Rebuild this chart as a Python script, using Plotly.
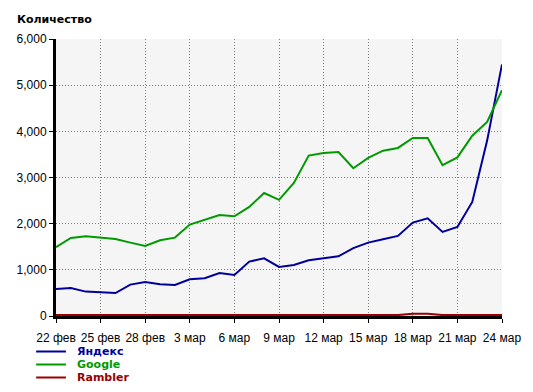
import plotly.graph_objects as go
import pandas as pd

# ---- data ----
dates = pd.date_range("2007-02-22", "2007-03-24", freq="D")
tick_dates = pd.date_range("2007-02-22", "2007-03-24", freq="3D")
tick_labels = ["22 фев", "25 фев", "28 фев", "3 мар", "6 мар", "9 мар",
               "12 мар", "15 мар", "18 мар", "21 мар", "24 мар"]

yandex = [585, 607, 528, 520, 498, 680, 737, 687, 672, 795, 820,
          932, 888, 1178, 1250, 1062, 1105, 1207, 1257, 1294, 1470,
          1590, 1662, 1734, 2023, 2117, 1820, 1928, 2470, 3800, 5450]
google = [1490, 1690, 1727, 1705, 1668, 1590, 1517, 1640, 1698, 1980, 2089,
          2188, 2160, 2362, 2665, 2515, 2882, 3475, 3532, 3550, 3200,
          3425, 3580, 3640, 3857, 3857, 3268, 3435, 3905, 4204, 4890]
rambler = [20, 20, 20, 20, 20, 20, 20, 20, 20, 20, 20,
           20, 20, 20, 20, 20, 20, 20, 20, 20, 20,
           20, 20, 20, 50, 50, 20, 20, 20, 20, 20]

series_names = ["Яндекс", "Google", "Rambler"]
series_colors = ["#000099", "#009900", "#990000"]
series_values = [yandex, google, rambler]

# ---- layout constants (pixels) ----
W, H = 533, 392
L, R, T, B = 56, 28, 39, 76
PW, PH = W - L - R, H - T - B
FONT = "Liberation Sans, Arial, sans-serif"
BOLD_FONT = "DejaVu Sans, Verdana, sans-serif"

fig = go.Figure()
for name, color, vals in zip(series_names, series_colors, series_values):
    fig.add_trace(go.Scatter(x=dates, y=vals, mode="lines", name=name,
                             line=dict(color=color, width=2),
                             showlegend=False, hoverinfo="skip"))

def px_x(p):
    return (p - L) / PW

def px_y(p):
    return (H - B - p) / PH

shapes = []
annotations = []
leg_y = [351.5, 364.5, 377.5]
for name, color, yy in zip(series_names, series_colors, leg_y):
    shapes.append(dict(type="line", xref="paper", yref="paper",
                       x0=px_x(36), x1=px_x(66), y0=px_y(yy), y1=px_y(yy),
                       line=dict(color=color, width=2)))
    annotations.append(dict(text="<b>%s</b>" % name, xref="paper", yref="paper",
                            x=px_x(75), y=px_y(yy), xanchor="left", yanchor="middle",
                            showarrow=False, font=dict(family=BOLD_FONT, size=11, color=color)))

annotations.append(dict(text="<b>Количество</b>", xref="paper", yref="paper",
                        x=px_x(15), y=px_y(20), xanchor="left", yanchor="middle",
                        showarrow=False, font=dict(family=BOLD_FONT, size=11, color="black")))

fig.update_layout(
    width=W, height=H,
    margin=dict(l=L, r=R, t=T, b=B, pad=0),
    paper_bgcolor="white", plot_bgcolor="#f5f5f5",
    font=dict(family=FONT, size=12, color="black"),
    shapes=shapes, annotations=annotations,
    showlegend=False,
)
fig.update_xaxes(range=[dates[0], dates[-1]], tickvals=tick_dates, ticktext=tick_labels,
                 showgrid=True, gridcolor="#808080", griddash="1px,2px", gridwidth=1,
                 showline=True, linecolor="black", linewidth=3,
                 ticks="outside", ticklen=4, tickcolor="black", tickwidth=1,
                 ticklabelstandoff=5,
                 zeroline=False, fixedrange=True)
fig.update_yaxes(range=[0, 6000], dtick=1000, tickformat=",d",
                 showgrid=True, gridcolor="#808080", griddash="1px,2px", gridwidth=1,
                 showline=True, linecolor="black", linewidth=3,
                 ticks="outside", ticklen=4, tickcolor="black", tickwidth=1,
                 zeroline=False, fixedrange=True)

fig.write_html("out.html")
